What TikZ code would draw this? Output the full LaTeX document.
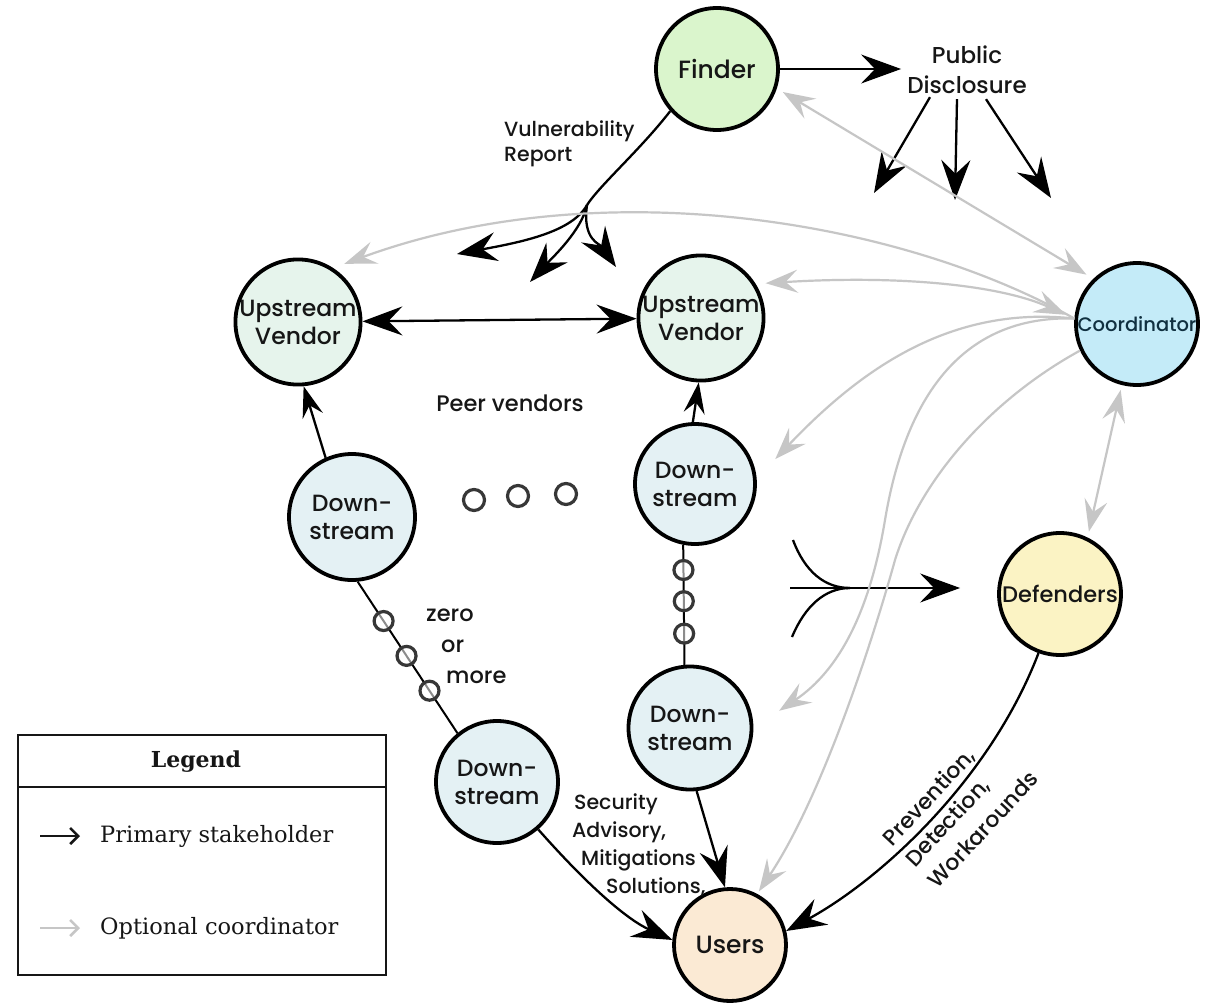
\documentclass[tikz,border=0pt]{standalone}
\usepackage{fontspec}
\setmainfont{Poppins}[UprightFont={* Medium}]
\newfontfamily\legendfont{DejaVu Serif}
\usetikzlibrary{arrows.meta}

\definecolor{finderfill}{RGB}{218,245,204}
\definecolor{upfill}{RGB}{230,244,236}
\definecolor{downfill}{RGB}{228,241,244}
\definecolor{coordfill}{RGB}{196,235,248}
\definecolor{deffill}{RGB}{251,243,196}
\definecolor{userfill}{RGB}{251,234,212}
\definecolor{optgray}{RGB}{198,198,198}
\definecolor{ringgray}{RGB}{55,55,55}
\definecolor{ink}{RGB}{22,22,22}
\definecolor{coordink}{RGB}{16,48,64}

\tikzset{
  priTip/.tip={Stealth[length=40pt,width=29pt,inset=14pt]},
  priSmall/.tip={Stealth[length=31pt,width=21pt,inset=11pt]},
  optTip/.tip={Stealth[length=32pt,width=23pt,inset=12pt]},
  legTip/.tip={Straight Barb[length=8pt,width=16pt]},
  party/.style={circle, draw=black, line width=3.8pt, inner sep=0pt,
    align=center, text=ink, font=\fontsize{23.5}{28}\selectfont},
  upstream/.style={party, fill=upfill, minimum size=123pt},
  downstream/.style={party, fill=downfill, minimum size=123pt},
  ring/.style={circle, draw=ringgray, line width=3.2pt, fill=white,
    fill opacity=0.55, minimum size=19pt, inner sep=0pt},
  plain/.style={draw=black, line width=2.3pt},
  primary/.style={plain, -priTip},
  optional/.style={draw=optgray, line width=2.2pt},
  caption/.style={text=ink, inner sep=0pt},
}

\begin{document}
\begin{tikzpicture}[x=1pt,y=-1pt]
\useasboundingbox[fill=white] (0,0) rectangle (1205,1004);

% ---- stakeholders ----
\node[party, fill=finderfill, minimum size=122pt, font=\fontsize{25}{30}\selectfont] (finder) at (717,69) {Finder};
\node[upstream] (uvl) at (298,322) {Upstream\\Vendor};
\node[upstream, minimum size=121pt] (uvr) at (701,318) {Upstream\\Vendor};
\node[party, fill=coordfill, minimum size=122pt, text=coordink, font=\fontsize{19.5}{22}\selectfont] (coord) at (1137,324) {Coordinator};
\node[downstream, minimum size=126pt] (dsl) at (352,517) {Down-\\stream};
\node[downstream, minimum size=120pt] (dsm) at (695,484) {Down-\\stream};
\node[downstream] (dsr) at (690,728) {Down-\\stream};
\node[downstream, minimum size=122pt] (dsb) at (497,782) {Down-\\stream};
\node[party, fill=deffill, minimum size=122pt, font=\fontsize{22.5}{24}\selectfont] (def) at (1060,594) {Defenders};
\node[party, fill=userfill, minimum size=112pt, font=\fontsize{25}{30}\selectfont] (users) at (730,945) {Users};

% ---- free labels ----
\node[caption, align=center, font=\fontsize{23}{30}\selectfont] (public) at (967,70) {Public\\Disclosure};
\node[caption, align=left, anchor=west, font=\fontsize{20.5}{25}\selectfont] (vrlabel) at (504,144) {Vulnerability\\Report};
\node[caption, font=\fontsize{22.5}{24}\selectfont] (peer) at (510,403) {Peer vendors};
\node[caption, align=left, anchor=west, font=\fontsize{22.5}{31}\selectfont] (zero) at (426,646) {zero\\\hspace*{15pt}or\\\hspace*{20pt}more};
\node[caption, align=left, anchor=west, font=\fontsize{20.5}{28}\selectfont] (advisory) at (572,845)
  {\hspace*{2pt}Security\\Advisory,\\\hspace*{9pt}Mitigations\\\hspace*{34pt}Solutions,};
\node[caption, align=left, rotate=47, font=\fontsize{22}{31}\selectfont] (prevent) at (960,808)
  {Prevention,\\Detection,\\Workarounds};

% ---- primary stakeholder flows ----
\draw[primary, shorten >=6pt] (finder.east) -- (finder.east -| public.west);

\coordinate (pd1) at (874,193);
\coordinate (pd2) at (955,200);
\coordinate (pd3) at (1051,198);
\draw[primary] ([xshift=-37pt,yshift=-3pt]public.south) -- (pd1);
\draw[primary] ([xshift=-10pt,yshift=-5pt]public.south) -- (pd2);
\draw[primary] ([xshift=19pt,yshift=-5pt]public.south) -- (pd3);

\coordinate (vrfork) at (587,205);
\coordinate (vr1) at (457,254);
\coordinate (vr2) at (530,282);
\coordinate (vr3) at (616,267);
\draw[plain] (finder.222) .. controls (640,150) and (600,185) .. (vrfork);
\draw[primary] (vrfork) .. controls (572,232) and (522,242) .. (vr1);
\draw[primary] (vrfork) .. controls (582,230) and (552,258) .. (vr2);
\draw[primary] (vrfork) .. controls (582,240) and (600,244) .. (vr3);

\draw[plain, priTip-priTip] (uvl) -- (uvr);
\draw[plain, -priSmall] (dsl.114) -- (uvl.275);
\draw[plain, -priSmall] (dsm.92) -- (uvr.268);

\draw[plain, line width=2pt] (dsl.-85) -- node[ring, pos=0.26] (r1) {} node[ring, pos=0.49] (r2) {} node[ring, pos=0.72] (r3) {} (dsb.129);
\draw[plain, line width=2pt] (dsm.259) -- node[ring, pos=0.21] (r4) {} node[ring, pos=0.47] (r5) {} node[ring, pos=0.74] (r6) {} (dsr.95);

\node[ring, minimum size=21pt] (dot1) at (474,500) {};
\node[ring, minimum size=21pt] (dot2) at (518,496) {};
\node[ring, minimum size=21pt] (dot3) at (566,494) {};

\draw[primary] (dsr.-84) -- (users.95);
\draw[primary] (dsb.-49) .. controls (590,888) and (628,920) .. (users.175);
\draw[primary] (def.-110) .. controls (990,780) and (880,880) .. (users.14);

\coordinate (mtop) at (793,540);
\coordinate (mmid) at (790,588);
\coordinate (mbot) at (792,637);
\coordinate (mjoin) at (850,588);
\draw[primary, shorten >=37pt] (mmid) -- (mmid -| def.west);
\draw[plain] (mtop) .. controls (805,572) and (825,588) .. (mjoin);
\draw[plain] (mbot) .. controls (805,606) and (825,588) .. (mjoin);

% ---- optional coordinator flows ----
\draw[optional, optTip-optTip, shorten <=7pt, shorten >=8pt] (finder.-18) -- (coord.134);
\draw[optional, -optTip, shorten >=12pt] (coord.175) .. controls (900,220) and (600,170) .. (uvl.57);
\draw[optional, optTip-optTip, shorten <=9pt, shorten >=10pt] (coord.175) .. controls (1000,285) and (900,275) .. (uvr.32);
\draw[optional, -optTip, shorten >=27pt] (coord.175) .. controls (950,305) and (860,370) .. (dsm.5);
\draw[optional, -optTip, shorten >=31pt] (coord.175) .. controls (960,315) and (905,400) .. (885,520) .. controls (870,610) and (840,670) .. (dsr.0);
\draw[optional, -optTip, shorten >=3pt] (coord.205) .. controls (990,400) and (920,480) .. (895,560) .. controls (870,650) and (820,800) .. (users.62);
\draw[optional, optTip-optTip, shorten <=5pt, shorten >=6pt] (coord.256) -- (def.64);

% ---- legend ----
\node[draw=ink, line width=1.6pt, minimum width=368pt, minimum height=240pt, inner sep=0pt] (legend) at (202,855) {};
\draw[draw=ink, line width=1.6pt] (legend.west |- 0,787) -- (legend.east |- 0,787);
\node[caption, font=\legendfont\bfseries\fontsize{22}{24}\selectfont] (legendtitle) at (196,762) {Legend};
\coordinate (lp0) at (40,836);
\coordinate (lp1) at (80,836);
\coordinate (lo0) at (40,928);
\coordinate (lo1) at (80,928);
\draw[draw=ink, line width=2.6pt, -legTip] (lp0) -- (lp1);
\draw[draw=optgray, line width=2.6pt, -legTip] (lo0) -- (lo1);
\node[caption, anchor=west, font=\legendfont\fontsize{22.5}{24}\selectfont] (legprimary) at (100,836) {Primary stakeholder};
\node[caption, anchor=west, font=\legendfont\fontsize{22.5}{24}\selectfont] (legoptional) at (100,928) {Optional coordinator};
\end{tikzpicture}
\end{document}
